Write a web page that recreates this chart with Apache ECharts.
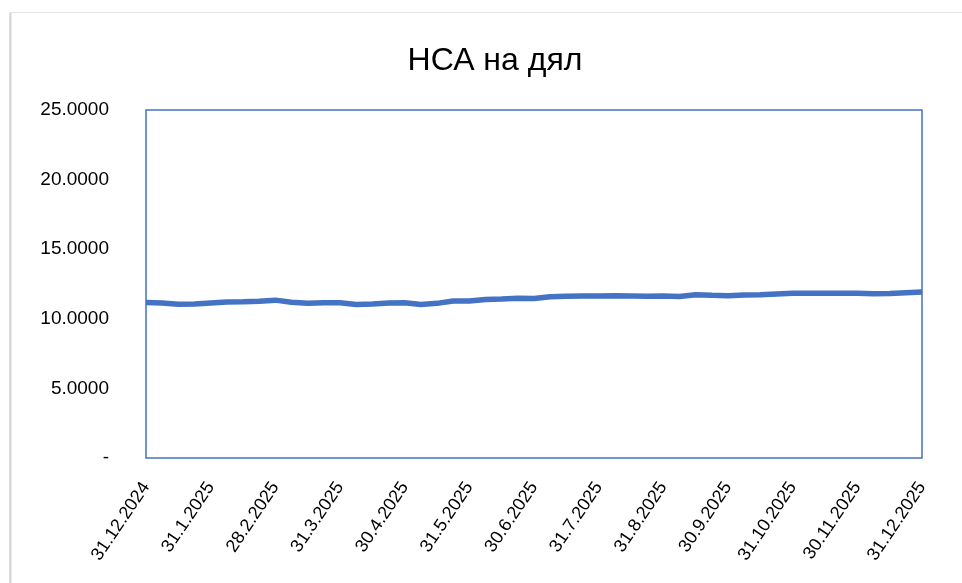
<!DOCTYPE html>
<html>
<head>
<meta charset="utf-8">
<script src="https://cdn.jsdelivr.net/npm/echarts@6/dist/echarts.min.js"></script>
<style>
html,body{margin:0;padding:0;background:#fff;}
#c{width:962px;height:583px;}
</style>
</head>
<body>
<div id="c"></div>
<script>
// Tick labels for the x axis (month ends)
var xTickLabels = ['31.12.2024','31.1.2025','28.2.2025','31.3.2025','30.4.2025','31.5.2025','30.6.2025','31.7.2025','31.8.2025','30.9.2025','31.10.2025','30.11.2025','31.12.2025'];
// Y tick labels
var yTickLabels = ['-','5.0000','10.0000','15.0000','20.0000','25.0000'];
// NAV per unit, 4 readings per month from 31.12.2024 to 31.12.2025
var navValues = [
  11.17,11.14,11.05,11.06,11.14,11.21,11.22,11.26,11.34,11.19,11.11,11.15,11.16,
  11.03,11.06,11.14,11.16,11.03,11.11,11.28,11.28,11.39,11.42,11.47,11.46,
  11.59,11.62,11.64,11.64,11.66,11.64,11.62,11.64,11.60,11.73,11.69,11.66,
  11.71,11.72,11.78,11.83,11.83,11.83,11.83,11.83,11.80,11.82,11.88,11.93
];
var pointsPerMonth = 4;

var seriesData = navValues.map(function(v,i){ return [i/pointsPerMonth, v]; });

var chart = echarts.init(document.getElementById('c'));
chart.setOption({
  animation:false,
  backgroundColor:'#ffffff',
  title:{
    text:'НСА на дял',
    top:40,
    left:490,
    textAlign:'center',
    textStyle:{fontFamily:'Liberation Sans',fontSize:32,fontWeight:'normal',color:'#000'}
  },
  graphic:[
    {type:'rect',shape:{x:9.5,y:12.5,width:1000,height:700},style:{fill:'none',stroke:'#e3e3e3',lineWidth:1},z:-1},
    {type:'line',shape:{x1:10.5,y1:13,x2:10.5,y2:600},style:{stroke:'#d6d6d6',lineWidth:2},z:-1}
  ],
  grid:{left:146,right:40,top:110,bottom:125,show:true,borderColor:'#4472C4',borderWidth:1.5,backgroundColor:'#fff'},
  xAxis:{
    type:'value',min:0,max:12,interval:1,
    axisLine:{show:false},axisTick:{show:false},splitLine:{show:false},
    axisLabel:{
      rotate:56,fontFamily:'Liberation Sans',fontSize:18,color:'#000',margin:26,
      formatter:function(v){ return xTickLabels[Math.round(v)]; }
    }
  },
  yAxis:{
    type:'value',min:0,max:25,interval:5,
    axisLine:{show:false},axisTick:{show:false},splitLine:{show:false},
    axisLabel:{
      fontFamily:'Liberation Sans',fontSize:19,color:'#000',margin:37,
      formatter:function(v){ return yTickLabels[Math.round(v/5)]; }
    }
  },
  series:[{
    type:'line',data:seriesData,showSymbol:false,smooth:false,
    lineStyle:{color:'#4472C4',width:5.5},
    itemStyle:{color:'#4472C4'}
  }]
});
</script>
</body>
</html>
